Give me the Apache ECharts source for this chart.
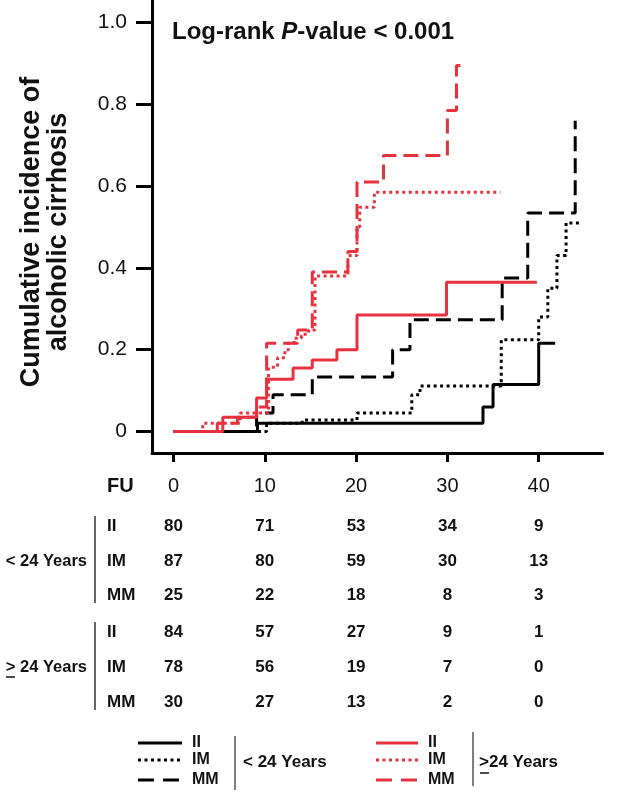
<!DOCTYPE html>
<html><head><meta charset="utf-8">
<script src="https://cdn.jsdelivr.net/npm/echarts@6/dist/echarts.min.js"></script>
<style>html,body{margin:0;padding:0;background:#fff}#c{width:622px;height:791px}</style>
</head><body><div id="c"></div>
<script>
// ---- data ----
const xTicks = [0, 10, 20, 30, 40];
const yTicks = [0, 0.2, 0.4, 0.6, 0.8, 1.0];
const yTickLabels = ['0', '0.2', '0.4', '0.6', '0.8', '1.0'];
// step curves: [follow-up, cumulative incidence from that time on]
const under24_II = [[0,0],[9.2,0.02],[33.9,0.06],[35,0.115],[40,0.216],[41.8,0.216]];
const under24_IM = [[0,0],[10.2,0.02],[14.1,0.028],[20.1,0.045],[26.1,0.09],[27,0.111],[35.9,0.224],[40,0.28],[41,0.35],[42,0.43],[43,0.51],[44.6,0.51]];
const under24_MM = [[0,0],[9.1,0.045],[10.9,0.09],[15.2,0.133],[24,0.2],[25.9,0.273],[36,0.375],[38.8,0.534],[44,0.76]];
const over24_II = [[0,0],[5.4,0.035],[9.1,0.082],[10.2,0.128],[13.1,0.155],[15.2,0.175],[17.9,0.2],[20.1,0.285],[29.9,0.365],[39.8,0.365]];
const over24_IM = [[0,0],[3.2,0.02],[7.3,0.045],[10.4,0.157],[11.4,0.18],[12.2,0.2],[12.6,0.216],[13.2,0.228],[14,0.238],[14.8,0.248],[15.5,0.38],[19.1,0.43],[20.1,0.5],[20.4,0.548],[22,0.585],[35.8,0.585]];
const over24_MM = [[0,0],[4.8,0.02],[7,0.035],[9.1,0.06],[10.2,0.216],[13.6,0.248],[15.2,0.39],[19.1,0.44],[20.1,0.61],[23,0.675],[30,0.785],[31,0.895],[31.7,0.895]];
// numbers at risk
const groupNames = ['< 24 Years', '> 24 Years'];
const rowNames = ['II', 'IM', 'MM'];
const riskUnder24 = [[80,71,53,34,9],[87,80,59,30,13],[25,22,18,8,3]];
const riskOver24 = [[84,57,27,9,1],[78,56,19,7,0],[30,27,13,2,0]];
const yName = ['Cumulative incidence of', 'alcoholic cirrhosis'];

// ---- styles ----
const FF = "'Liberation Sans', Arial, Helvetica, sans-serif";
const BLACK = '#000';
const RED = '#e6323e';
const DASH = [15, 7];
const DOT = [3, 3.5];

function stepSeries(name, data, color, type) {
  return {
    name, type: 'line', step: 'end', data, symbol: 'none', silent: true,
    lineStyle: { color, width: 3, type, cap: 'butt' }, z: color === RED ? 3 : 2
  };
}

const chart = echarts.init(document.getElementById('c'), null, { renderer: 'canvas' });
const option = {
  animation: false,
  backgroundColor: '#fff',
  grid: { left: 152, top: 0, width: 450.6, height: 453 },
  xAxis: {
    type: 'value', min: -2.355, max: 47,
    axisLine: { show: true, onZero: false, lineStyle: { color: BLACK, width: 3 } },
    axisTick: { show: true, customValues: xTicks, length: 9, lineStyle: { color: BLACK, width: 3 } },
    axisLabel: { customValues: xTicks, fontSize: 20, margin: 23, color: '#111', fontFamily: FF },
    splitLine: { show: false }
  },
  yAxis: {
    type: 'value', min: -0.0526, max: 1.055,
    axisLine: { show: true, onZero: false, lineStyle: { color: BLACK, width: 3 } },
    axisTick: { show: true, customValues: yTicks, length: 16, lineStyle: { color: BLACK, width: 3 } },
    axisLabel: {
      customValues: yTicks, fontSize: 21, margin: 25, color: '#111', fontFamily: FF,
      formatter: v => yTickLabels[yTicks.findIndex(t => Math.abs(t - v) < 1e-6)]
    },
    splitLine: { show: false }
  },
  series: [
    stepSeries('II <24', under24_II, BLACK, 'solid'),
    stepSeries('IM <24', under24_IM, BLACK, DOT),
    stepSeries('MM <24', under24_MM, BLACK, DASH),
    stepSeries('II >=24', over24_II, RED, 'solid'),
    stepSeries('IM >=24', over24_IM, RED, DOT),
    stepSeries('MM >=24', over24_MM, RED, DASH)
  ]
};
chart.setOption(option);

const px = t => chart.convertToPixel({ xAxisIndex: 0 }, t);
const g = [];
function txt(x, y, text, font, align, extra) {
  g.push(Object.assign({ type: 'text', x, y, silent: true,
    style: { text, font, fill: '#111', textAlign: align || 'left', textVerticalAlign: 'middle' } }, extra || {}));
}
function line(x1, y1, x2, y2, stroke, w, dash) {
  g.push({ type: 'line', silent: true, shape: { x1, y1, x2, y2 },
    style: { stroke, lineWidth: w, lineDash: dash || null } });
}

// title with italic P
g.push({ type: 'text', x: 172, y: 32, silent: true, style: {
  text: '{a|Log-rank }{i|P}{a|-value < 0.001}', textVerticalAlign: 'middle',
  rich: { a: { font: 'bold 24px ' + FF, fill: '#111' }, i: { font: 'italic bold 24px ' + FF, fill: '#111' } } } });

// y axis name (two lines, rotated)
txt(32, 232, yName[0], 'bold 27px ' + FF, 'center', { rotation: Math.PI / 2 });
txt(59, 232, yName[1], 'bold 27px ' + FF, 'center', { rotation: Math.PI / 2 });

// risk table
txt(107, 486, 'FU', 'bold 20px ' + FF, 'left');
const rowY = [[526, 561, 595], [632, 667, 702]];
const tables = [riskUnder24, riskOver24];
tables.forEach((tab, gi) => {
  tab.forEach((row, ri) => {
    txt(107, rowY[gi][ri], rowNames[ri], 'bold 17px ' + FF, 'left');
    row.forEach((v, ci) => txt(px(xTicks[ci]), rowY[gi][ri], String(v), 'bold 17px ' + FF, 'center'));
  });
  txt(87, rowY[gi][1], groupNames[gi], 'bold 16.5px ' + FF, 'right');
  line(95, rowY[gi][0] - 10, 95, rowY[gi][2] + 8, '#333', 1.5);
});
// underline the ">" of the second group label
line(6, 677, 15, 677, '#111', 1.5);

// legend
const legY = [743, 760, 780];
const styles = ['solid', DOT, DASH];
styles.forEach((s, i) => {
  const d = s === 'solid' ? null : (s === DASH ? [16, 9] : [3, 3.5]);
  line(138, legY[i], 182, legY[i], BLACK, 3, d);
  txt(192, legY[i], rowNames[i], 'bold 16px ' + FF, 'left');
  line(376, legY[i], 418, legY[i], RED, 3, d);
  txt(428, legY[i], rowNames[i], 'bold 16px ' + FF, 'left');
});
line(235, 736, 235, 790, '#555', 1.5);
txt(243, 762, groupNames[0], 'bold 17px ' + FF, 'left');
line(473, 732, 473, 786, '#555', 1.5);
txt(479, 762, '>24 Years', 'bold 17px ' + FF, 'left');
line(480, 773, 489, 773, '#111', 1.5);

chart.setOption({ graphic: g });
</script>
</body></html>
